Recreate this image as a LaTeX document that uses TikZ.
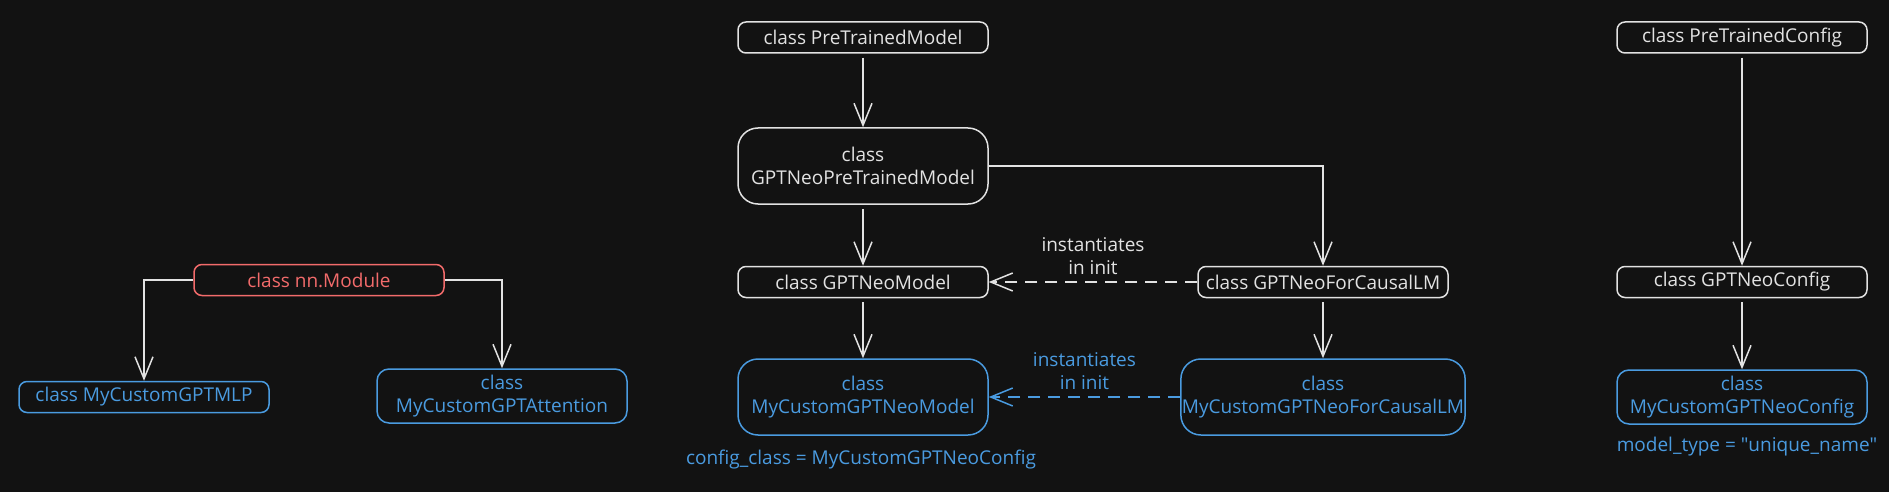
\documentclass[tikz,border=0pt]{standalone}
\usepackage{fontspec}
\setmainfont{Open Sans}
\usetikzlibrary{arrows.meta}

\definecolor{bg}{HTML}{121212}
\definecolor{fg}{HTML}{E2E2E2}
\definecolor{myblue}{HTML}{4A9BE0}
\definecolor{myred}{HTML}{F26B6B}

\begin{document}
\begin{tikzpicture}[x=0.5pt,y=-0.5pt,>={Straight Barb[length=11pt,width=9pt]},
  line width=0.75pt,font=\fontsize{9.5}{11.5}\selectfont,
  class node/.style={draw=fg,text=fg,rounded corners=4pt,align=center,
    minimum width=125pt,minimum height=15.5pt,inner sep=2pt},
  tall node/.style={class node,rounded corners=10pt,minimum height=38pt},
  mid node/.style={class node,rounded corners=6pt,minimum height=27pt},
  custom/.style={draw=myblue,text=myblue},
  base/.style={draw=myred,text=myred}]

  \fill[bg] (0,0) rectangle (1889,492);
  \useasboundingbox (0,0) rectangle (1889,492);

  % left: nn.Module and its subclasses
  \node[class node,base] (module) at (319,280) {class nn.Module};
  \node[class node,custom] (mlp) at (144,397) {class MyCustomGPTMLP};
  \node[mid node,custom] (attn) at (502,396) {class\\MyCustomGPTAttention};

  % middle: model classes
  \node[class node] (ptm) at (863,37.5) {class PreTrainedModel};
  \node[tall node] (neoptm) at (863,166) {class\\GPTNeoPreTrainedModel};
  \node[class node] (neomodel) at (863,282) {class GPTNeoModel};
  \node[tall node,custom] (mymodel) at (863,397) {class\\MyCustomGPTNeoModel};
  \node[class node] (causal) at (1323,282) {class GPTNeoForCausalLM};
  \node[tall node,custom,minimum width=141.5pt,inner xsep=0.5pt] (mycausal) at (1323,397)
    {class\\MyCustomGPTNeoForCausalLM};
  \node[text=myblue] (cfgnote) at (861,460) {config\_class = MyCustomGPTNeoConfig};

  % right: config classes
  \node[class node] (ptc) at (1742,37.5) {class PreTrainedConfig};
  \node[class node] (neocfg) at (1742,282) {class GPTNeoConfig};
  \node[mid node,custom] (mycfg) at (1742,397) {class\\MyCustomGPTNeoConfig};
  \node[text=myblue] (typenote) at (1747,447)
    {model\_type = \textquotedbl unique\_name\textquotedbl};

  \path[->,fg,shorten <=2pt]
    (ptm) edge (neoptm)
    (neoptm) edge (neomodel)
    (neomodel) edge (mymodel)
    (causal) edge (mycausal)
    (ptc) edge (neocfg)
    (neocfg) edge (mycfg);

  \draw[->,fg] (neoptm) -| (causal);
  \draw[->,fg] (module) -| (mlp);
  \draw[->,fg] (module) -| (attn);

  \path[->,dash pattern=on 6pt off 4pt]
    (causal) edge[fg] node[above,align=center] {instantiates\\in init} (neomodel)
    (mycausal) edge[myblue] node[above,align=center] {instantiates\\in init} (mymodel);
\end{tikzpicture}
\end{document}
